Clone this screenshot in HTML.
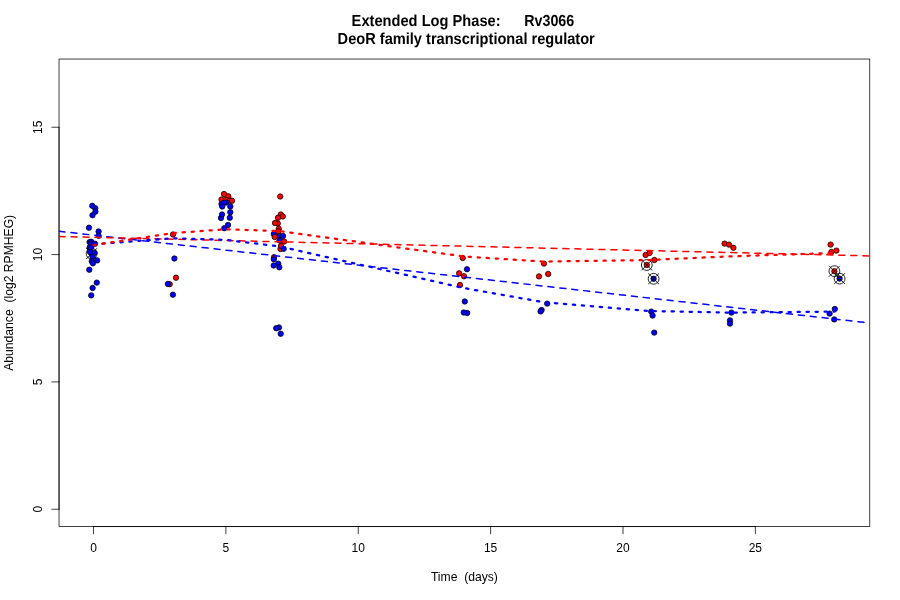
<!DOCTYPE html>
<html><head><meta charset="utf-8"><title>Extended Log Phase: Rv3066</title>
<style>
html,body{margin:0;padding:0;background:#fff;}
svg{display:block;}
text{font-family:"Liberation Sans",Arial,Helvetica,sans-serif;fill:#000;}
.t{font-size:12.15px;}
.k{font-size:12px;}
.m{font-size:14.4px;font-weight:bold;white-space:pre;text-rendering:geometricPrecision;}
.p{stroke:#000;stroke-width:0.75;}
.ax{stroke:#000;stroke-width:0.75;fill:none;stroke-linecap:round;}
</style></head><body>
<svg width="900" height="600" viewBox="0 0 900 600">
<rect width="900" height="600" fill="#fff"/>
<defs><clipPath id="c"><rect x="59.04" y="59.04" width="810.72" height="467.52"/></clipPath></defs>

<g class="p" clip-path="url(#c)">
<circle cx="91.60" cy="253.60" r="2.70" fill="#f00"/>
<path fill="none" stroke-width="0.85" d="M86.20 253.60a5.40 5.40 0 1 0 10.80 0a5.40 5.40 0 1 0 -10.80 0M86.20 248.20l10.80 10.80M86.20 259.00l10.80 -10.80"/>
<circle cx="95.25" cy="208.20" r="2.70" fill="#00f"/>
<circle cx="92.25" cy="205.80" r="2.70" fill="#00f"/>
<circle cx="95.40" cy="211.70" r="2.70" fill="#00f"/>
<circle cx="92.50" cy="215.25" r="2.70" fill="#00f"/>
<circle cx="89.00" cy="227.70" r="2.70" fill="#00f"/>
<circle cx="98.60" cy="231.50" r="2.70" fill="#00f"/>
<circle cx="98.60" cy="235.80" r="2.70" fill="#00f"/>
<circle cx="89.60" cy="242.10" r="2.70" fill="#00f"/>
<circle cx="91.25" cy="241.70" r="2.70" fill="#00f"/>
<circle cx="90.80" cy="243.75" r="2.70" fill="#00f"/>
<circle cx="95.00" cy="243.75" r="2.70" fill="#00f"/>
<circle cx="89.60" cy="247.50" r="2.70" fill="#00f"/>
<circle cx="91.20" cy="247.60" r="2.70" fill="#00f"/>
<circle cx="90.00" cy="252.00" r="2.70" fill="#00f"/>
<circle cx="94.60" cy="252.90" r="2.70" fill="#00f"/>
<circle cx="92.50" cy="256.70" r="2.70" fill="#00f"/>
<circle cx="97.10" cy="260.40" r="2.70" fill="#00f"/>
<circle cx="91.80" cy="261.25" r="2.70" fill="#00f"/>
<circle cx="92.90" cy="263.30" r="2.70" fill="#00f"/>
<circle cx="89.30" cy="269.75" r="2.70" fill="#00f"/>
<circle cx="96.80" cy="282.60" r="2.70" fill="#00f"/>
<circle cx="92.60" cy="288.00" r="2.70" fill="#00f"/>
<circle cx="91.20" cy="295.40" r="2.70" fill="#00f"/>
<circle cx="173.00" cy="234.50" r="2.70" fill="#f00"/>
<circle cx="176.00" cy="277.70" r="2.70" fill="#f00"/>
<circle cx="169.70" cy="284.20" r="2.70" fill="#f00"/>
<circle cx="174.40" cy="258.50" r="2.70" fill="#00f"/>
<circle cx="167.90" cy="283.90" r="2.70" fill="#00f"/>
<circle cx="172.90" cy="294.70" r="2.70" fill="#00f"/>
<circle cx="224.00" cy="194.00" r="2.70" fill="#f00"/>
<circle cx="228.30" cy="196.30" r="2.70" fill="#f00"/>
<circle cx="221.50" cy="199.50" r="2.70" fill="#f00"/>
<circle cx="226.00" cy="200.00" r="2.70" fill="#f00"/>
<circle cx="230.00" cy="200.50" r="2.70" fill="#f00"/>
<circle cx="232.00" cy="200.70" r="2.70" fill="#f00"/>
<circle cx="226.50" cy="202.50" r="2.70" fill="#00f"/>
<circle cx="221.50" cy="204.00" r="2.70" fill="#00f"/>
<circle cx="224.00" cy="202.80" r="2.70" fill="#00f"/>
<circle cx="222.20" cy="206.50" r="2.70" fill="#00f"/>
<circle cx="230.30" cy="206.50" r="2.70" fill="#00f"/>
<circle cx="230.30" cy="212.20" r="2.70" fill="#00f"/>
<circle cx="221.00" cy="218.00" r="2.70" fill="#00f"/>
<circle cx="222.00" cy="214.50" r="2.70" fill="#00f"/>
<circle cx="229.80" cy="217.80" r="2.70" fill="#00f"/>
<circle cx="228.00" cy="225.00" r="2.70" fill="#00f"/>
<circle cx="224.30" cy="228.20" r="2.70" fill="#00f"/>
<circle cx="280.20" cy="196.50" r="2.70" fill="#f00"/>
<circle cx="280.80" cy="214.50" r="2.70" fill="#f00"/>
<circle cx="282.80" cy="216.50" r="2.70" fill="#f00"/>
<circle cx="278.00" cy="217.80" r="2.70" fill="#f00"/>
<circle cx="277.80" cy="223.50" r="2.70" fill="#f00"/>
<circle cx="275.00" cy="223.00" r="2.70" fill="#f00"/>
<circle cx="278.80" cy="228.70" r="2.70" fill="#f00"/>
<circle cx="273.80" cy="234.00" r="2.70" fill="#00f"/>
<circle cx="279.00" cy="235.50" r="2.70" fill="#00f"/>
<circle cx="283.00" cy="236.00" r="2.70" fill="#00f"/>
<circle cx="279.50" cy="240.50" r="2.70" fill="#00f"/>
<circle cx="278.20" cy="231.30" r="2.70" fill="#f00"/>
<circle cx="274.70" cy="237.00" r="2.70" fill="#f00"/>
<circle cx="284.20" cy="241.50" r="2.70" fill="#f00"/>
<circle cx="280.50" cy="249.00" r="2.70" fill="#f00"/>
<circle cx="281.00" cy="246.00" r="2.70" fill="#f00"/>
<circle cx="274.00" cy="257.20" r="2.70" fill="#f00"/>
<circle cx="283.70" cy="248.80" r="2.70" fill="#00f"/>
<circle cx="273.80" cy="259.30" r="2.70" fill="#00f"/>
<circle cx="278.20" cy="263.70" r="2.70" fill="#00f"/>
<circle cx="273.70" cy="265.50" r="2.70" fill="#00f"/>
<circle cx="279.30" cy="267.30" r="2.70" fill="#00f"/>
<circle cx="279.00" cy="327.50" r="2.70" fill="#00f"/>
<circle cx="276.20" cy="328.20" r="2.70" fill="#00f"/>
<circle cx="280.70" cy="333.80" r="2.70" fill="#00f"/>
<circle cx="462.70" cy="258.00" r="2.70" fill="#f00"/>
<circle cx="459.10" cy="273.30" r="2.70" fill="#f00"/>
<circle cx="464.00" cy="276.30" r="2.70" fill="#f00"/>
<circle cx="460.00" cy="285.00" r="2.70" fill="#f00"/>
<circle cx="467.00" cy="269.25" r="2.70" fill="#00f"/>
<circle cx="464.80" cy="301.50" r="2.70" fill="#00f"/>
<circle cx="467.20" cy="313.00" r="2.70" fill="#00f"/>
<circle cx="463.75" cy="312.50" r="2.70" fill="#00f"/>
<circle cx="544.00" cy="263.60" r="2.70" fill="#f00"/>
<circle cx="548.20" cy="274.00" r="2.70" fill="#f00"/>
<circle cx="539.00" cy="276.40" r="2.70" fill="#f00"/>
<circle cx="547.20" cy="303.60" r="2.70" fill="#00f"/>
<circle cx="541.60" cy="310.00" r="2.70" fill="#00f"/>
<circle cx="540.60" cy="311.40" r="2.70" fill="#00f"/>
<circle cx="645.60" cy="255.00" r="2.70" fill="#f00"/>
<circle cx="649.60" cy="253.00" r="2.70" fill="#f00"/>
<circle cx="654.40" cy="260.00" r="2.70" fill="#f00"/>
<circle cx="646.80" cy="265.00" r="2.70" fill="#f00"/>
<path fill="none" stroke-width="0.85" d="M641.40 265.00a5.40 5.40 0 1 0 10.80 0a5.40 5.40 0 1 0 -10.80 0M641.40 259.60l10.80 10.80M641.40 270.40l10.80 -10.80"/>
<circle cx="653.60" cy="278.80" r="2.70" fill="#00f"/>
<path fill="none" stroke-width="0.85" d="M648.20 278.80a5.40 5.40 0 1 0 10.80 0a5.40 5.40 0 1 0 -10.80 0M648.20 273.40l10.80 10.80M648.20 284.20l10.80 -10.80"/>
<circle cx="651.20" cy="311.60" r="2.70" fill="#00f"/>
<circle cx="652.60" cy="315.60" r="2.70" fill="#00f"/>
<circle cx="654.20" cy="332.60" r="2.70" fill="#00f"/>
<circle cx="724.60" cy="243.60" r="2.70" fill="#f00"/>
<circle cx="729.00" cy="244.60" r="2.70" fill="#f00"/>
<circle cx="733.40" cy="247.80" r="2.70" fill="#f00"/>
<circle cx="731.40" cy="312.60" r="2.70" fill="#00f"/>
<circle cx="730.00" cy="320.40" r="2.70" fill="#00f"/>
<circle cx="730.00" cy="323.60" r="2.70" fill="#00f"/>
<circle cx="830.60" cy="244.60" r="2.70" fill="#f00"/>
<circle cx="836.40" cy="250.60" r="2.70" fill="#f00"/>
<circle cx="831.40" cy="252.00" r="2.70" fill="#f00"/>
<circle cx="834.40" cy="271.20" r="2.70" fill="#f00"/>
<path fill="none" stroke-width="0.85" d="M829.00 271.20a5.40 5.40 0 1 0 10.80 0a5.40 5.40 0 1 0 -10.80 0M829.00 265.80l10.80 10.80M829.00 276.60l10.80 -10.80"/>
<circle cx="839.60" cy="278.60" r="2.70" fill="#00f"/>
<path fill="none" stroke-width="0.85" d="M834.20 278.60a5.40 5.40 0 1 0 10.80 0a5.40 5.40 0 1 0 -10.80 0M834.20 273.20l10.80 10.80M834.20 284.00l10.80 -10.80"/>
<circle cx="834.80" cy="309.00" r="2.70" fill="#00f"/>
<circle cx="829.60" cy="313.60" r="2.70" fill="#00f"/>
<circle cx="834.20" cy="319.40" r="2.70" fill="#00f"/>
</g>
<rect class="ax" x="59.04" y="59.04" width="810.72" height="467.52"/>
<path class="ax" d="M93.50 526.56H755.38M93.50 526.56v7.2M225.88 526.56v7.2M358.25 526.56v7.2M490.62 526.56v7.2M623.00 526.56v7.2M755.38 526.56v7.2M59.04 509.24V127.25M59.04 509.24h-7.2M59.04 381.91h-7.2M59.04 254.58h-7.2M59.04 127.25h-7.2"/>
<text class="k" x="93.50" y="552.48" text-anchor="middle">0</text>
<text class="k" x="225.88" y="552.48" text-anchor="middle">5</text>
<text class="k" x="358.25" y="552.48" text-anchor="middle">10</text>
<text class="k" x="490.62" y="552.48" text-anchor="middle">15</text>
<text class="k" x="623.00" y="552.48" text-anchor="middle">20</text>
<text class="k" x="755.38" y="552.48" text-anchor="middle">25</text>
<text class="k" transform="translate(41.76 509.24) rotate(-90)" text-anchor="middle">0</text>
<text class="k" transform="translate(41.76 381.91) rotate(-90)" text-anchor="middle">5</text>
<text class="k" transform="translate(41.76 254.58) rotate(-90)" text-anchor="middle">10</text>
<text class="k" transform="translate(41.76 127.25) rotate(-90)" text-anchor="middle">15</text>
<text class="t" x="464.40" y="581.28" text-anchor="middle" style="white-space:pre">Time  (days)</text>
<text class="t" transform="translate(12.96 292.80) rotate(-90)" text-anchor="middle" style="white-space:pre">Abundance  (log2 RPMHEG)</text>
<text class="m" transform="translate(500.6 25.9) scale(1.018 1.11)" text-anchor="end">Extended Log Phase:</text>
<text class="m" transform="translate(524.2 25.9) scale(0.992 1.11)" text-anchor="start">Rv3066</text>
<text class="m" transform="translate(466.20 43.9) scale(1.0146 1.11)" text-anchor="middle">DeoR family transcriptional regulator</text>
<g clip-path="url(#c)" fill="none" stroke-linecap="round" stroke-linejoin="round">
<path d="M59.04 231.25L869.76 323.00" stroke="#00f" stroke-width="1.5" stroke-dasharray="6 6"/>
<path d="M59.04 236.50L869.76 255.90" stroke="#f00" stroke-width="1.5" stroke-dasharray="6 6"/>
<path d="M93.50 244.30L172.93 238.30L225.88 239.90L278.83 246.30L464.15 288.10L543.58 302.20L649.48 311.00L728.90 312.60L834.80 311.60" stroke="#00f" stroke-width="2.25" stroke-dasharray="2.25 6.75"/>
<path d="M93.50 245.10L172.93 233.10L225.88 229.30L278.83 231.00L464.15 256.50L543.58 261.60L649.48 260.00L728.90 256.40L834.80 253.00" stroke="#f00" stroke-width="2.25" stroke-dasharray="2.25 6.75"/>
</g>
</svg></body></html>
